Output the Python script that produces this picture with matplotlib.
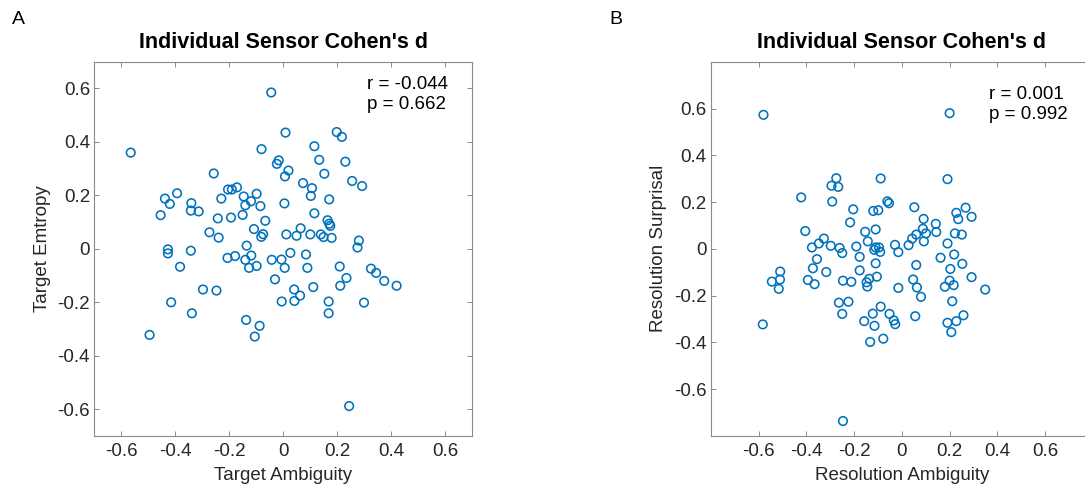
import matplotlib
matplotlib.use("Agg")
import matplotlib.pyplot as plt

plt.rcParams['font.family'] = ['Liberation Sans', 'DejaVu Sans']

# Panel A: per-sensor Cohen's d, target ambiguity vs target entropy
amb_a = [-0.044, -0.565, 0.009, 0.199, 0.218, -0.080, 0.116, -0.016, -0.023, 0.134,
         0.231, 0.020, 0.007, -0.257, 0.153, 0.074, 0.256, 0.293, 0.107, 0.103,
         -0.393, -0.438, -0.420, -0.204, -0.190, -0.171, -0.229, -0.146, -0.098, -0.119,
         -0.140, -0.084, 0.005, 0.171, -0.340, -0.342, -0.313, -0.454, -0.242, -0.193,
         -0.150, 0.116, -0.066, 0.165, 0.171, 0.175, -0.273, -0.239, -0.108, -0.074,
         -0.081, 0.012, 0.050, 0.065, 0.101, 0.140, 0.150, 0.180, 0.281, 0.276,
         -0.135, -0.427, -0.427, -0.342, -0.382, -0.206, -0.178, -0.140, -0.118, -0.126,
         -0.098, -0.042, -0.006, 0.027, 0.006, 0.085, 0.090, 0.210, 0.326, 0.345,
         0.375, 0.421, 0.235, 0.212, -0.030, 0.112, 0.041, 0.063, 0.042, -0.005,
         0.169, 0.300, 0.169, -0.297, -0.247, -0.415, -0.338, -0.137, -0.087, -0.105,
         -0.495, 0.245]
ent_a = [0.585, 0.360, 0.435, 0.437, 0.419, 0.373, 0.384, 0.331, 0.318, 0.333,
         0.326, 0.293, 0.271, 0.282, 0.281, 0.246, 0.254, 0.235, 0.227, 0.198,
         0.208, 0.188, 0.168, 0.222, 0.222, 0.230, 0.188, 0.196, 0.206, 0.178,
         0.163, 0.160, 0.170, 0.185, 0.171, 0.143, 0.140, 0.126, 0.114, 0.117,
         0.127, 0.133, 0.105, 0.107, 0.094, 0.086, 0.062, 0.042, 0.074, 0.055,
         0.045, 0.054, 0.049, 0.077, 0.054, 0.054, 0.044, 0.041, 0.031, 0.005,
         0.012, -0.002, -0.017, -0.007, -0.067, -0.034, -0.027, -0.041, -0.025, -0.071,
         -0.064, -0.041, -0.040, -0.015, -0.071, -0.021, -0.071, -0.066, -0.074, -0.090,
         -0.120, -0.138, -0.109, -0.138, -0.114, -0.143, -0.152, -0.175, -0.195, -0.197,
         -0.197, -0.201, -0.241, -0.152, -0.156, -0.200, -0.241, -0.266, -0.288, -0.328,
         -0.322, -0.588]

# Panel B: resolution ambiguity vs resolution surprisal
amb_b = [-0.580, 0.200, -0.275, -0.295, -0.267, -0.089, 0.191, -0.422, -0.292, -0.061,
         -0.054, 0.052, -0.204, -0.120, -0.099, 0.267, 0.228, 0.236, 0.292, 0.091,
         0.142, 0.144, 0.088, 0.101, 0.060, 0.043, 0.028, 0.092, 0.222, 0.251,
         0.191, -0.217, -0.405, -0.327, -0.348, -0.377, -0.298, -0.261, -0.250, -0.191,
         -0.154, -0.110, -0.143, -0.110, -0.096, -0.116, -0.091, -0.029, -0.015, -0.177,
         -0.356, -0.373, -0.317, -0.177, -0.110, 0.060, 0.162, 0.219, 0.253, 0.203,
         0.292, 0.349, -0.510, -0.545, -0.511, -0.516, -0.394, -0.366, -0.247, -0.212,
         -0.148, -0.137, -0.145, -0.105, 0.047, 0.063, 0.080, -0.015, 0.180, 0.200,
         0.217, 0.211, -0.264, -0.224, -0.250, -0.089, -0.122, -0.158, -0.052, -0.034,
         -0.028, -0.115, 0.056, 0.191, 0.228, 0.258, 0.207, -0.133, -0.078, -0.583,
         -0.247]
sur_b = [0.573, 0.580, 0.302, 0.270, 0.265, 0.301, 0.298, 0.220, 0.202, 0.203,
         0.195, 0.178, 0.169, 0.162, 0.165, 0.176, 0.154, 0.127, 0.137, 0.128,
         0.107, 0.072, 0.086, 0.066, 0.061, 0.044, 0.016, 0.032, 0.066, 0.061,
         0.023, 0.113, 0.076, 0.044, 0.023, 0.006, 0.013, 0.004, -0.018, 0.010,
         0.073, 0.083, 0.032, 0.006, 0.006, -0.004, -0.013, 0.017, -0.014, -0.034,
         -0.044, -0.083, -0.099, -0.092, -0.062, -0.069, -0.038, -0.024, -0.064, -0.086,
         -0.121, -0.174, -0.097, -0.140, -0.131, -0.171, -0.133, -0.151, -0.136, -0.141,
         -0.143, -0.128, -0.161, -0.119, -0.131, -0.165, -0.205, -0.167, -0.162, -0.136,
         -0.155, -0.224, -0.230, -0.226, -0.278, -0.247, -0.277, -0.309, -0.278, -0.306,
         -0.322, -0.329, -0.288, -0.316, -0.309, -0.284, -0.356, -0.398, -0.384, -0.323,
         -0.736]

ticks = [-0.6, -0.4, -0.2, 0, 0.2, 0.4, 0.6]
tick_labels = ['-0.6', '-0.4', '-0.2', '0', '0.2', '0.4', '0.6']

blue = '#0072BD'
dark = '#262626'
edge = '#8a8a8a'
fs = 13.5

fig = plt.figure(figsize=(10.85, 4.88), dpi=100)
ax_a = fig.add_axes([0.0869, 0.1066, 0.3480, 0.7669])
ax_b = fig.add_axes([0.6553, 0.1066, 0.3519, 0.7669])


def style(ax, lim):
    ax.set_xlim(-lim, lim)
    ax.set_ylim(-lim, lim)
    ax.set_xticks(ticks, tick_labels)
    ax.set_yticks(ticks, tick_labels)
    ax.tick_params(direction='in', top=True, right=True, length=3.5, width=0.7,
                   color=edge, labelcolor=dark, labelsize=fs)
    ax.tick_params(axis='x', pad=5)
    ax.tick_params(axis='y', pad=3)
    for sp in ax.spines.values():
        sp.set_color(edge)
        sp.set_linewidth(0.8)


ax_a.scatter(amb_a, ent_a, s=38, facecolors='none', edgecolors=blue, linewidths=1.15)
style(ax_a, 0.7)
ax_a.set_title("Individual Sensor Cohen's d", fontsize=15.5, fontweight='bold', pad=10)
ax_a.set_xlabel('Target Ambiguity', fontsize=fs, color=dark, labelpad=5)
ax_a.set_ylabel('Target Emtropy', fontsize=fs, color=dark, labelpad=5)
ax_a.text(0.312, 0.648, 'r = -0.044\np = 0.662', fontsize=fs, color='black',
          va='top', ha='left', linespacing=1.25)

ax_b.scatter(amb_b, sur_b, s=38, facecolors='none', edgecolors=blue, linewidths=1.15)
style(ax_b, 0.8)
ax_b.set_title("Individual Sensor Cohen's d", fontsize=15.5, fontweight='bold', pad=10)
ax_b.set_xlabel('Resolution Ambiguity', fontsize=fs, color=dark, labelpad=5)
ax_b.set_ylabel('Resolution Surprisal', fontsize=fs, color=dark, labelpad=5)
ax_b.text(0.367, 0.698, 'r = 0.001\np = 0.992', fontsize=fs, color='black',
          va='top', ha='left', linespacing=1.25)

fig.text(0.011, 0.977, 'A', fontsize=14, va='top', ha='left')
fig.text(0.562, 0.977, 'B', fontsize=14, va='top', ha='left')

fig.savefig('out.png', dpi=100)
